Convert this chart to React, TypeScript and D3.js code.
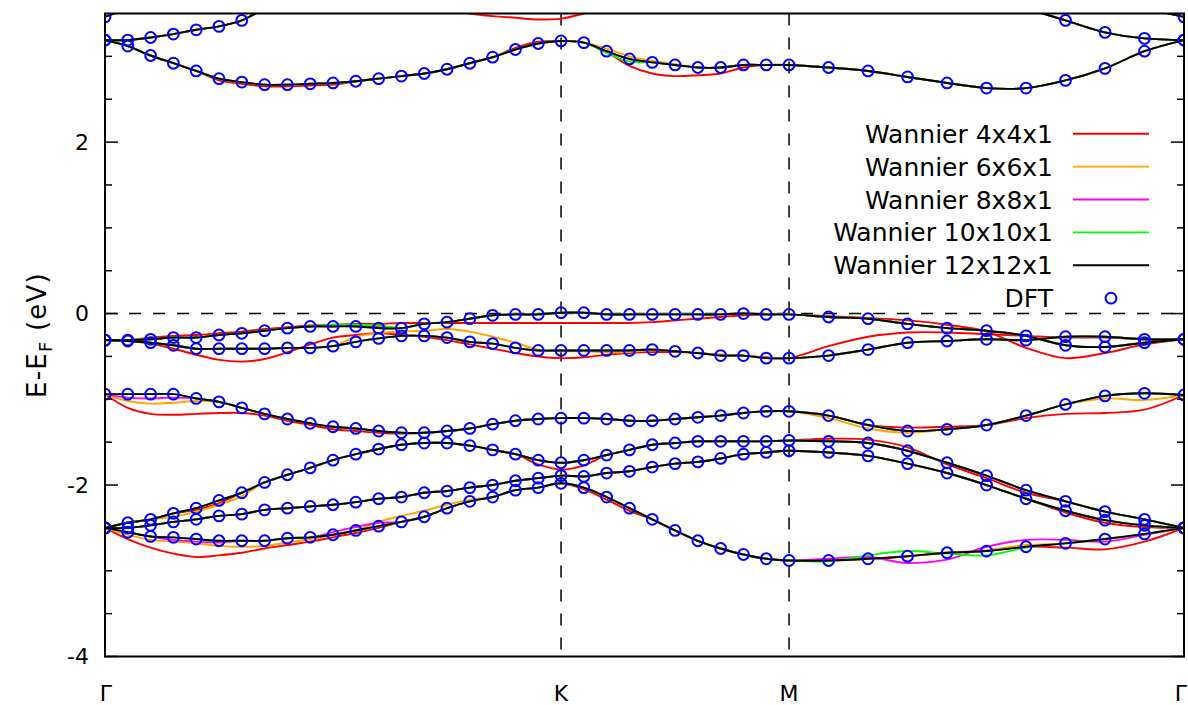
import React from "react";
import * as d3 from "d3";

// k-path: Γ-K-M-Γ of the hexagonal zone, lengths in units of |ΓK|
const symLabels = ["Γ", "K", "M", "Γ"];
const segLengths = [1, 0.5, Math.sqrt(3) / 2];
const segSteps = [20, 10, 10];

const yMajorTicks = [-4, -2, 0, 2];
const yMinorTicks = [-3.5, -3, -2.5, -1.5, -1, -0.5, 0.5, 1, 1.5, 2.5, 3];

// DFT eigenvalues (eV) on the 41 k-points of the path
const dftU3 = [
  3.46, 3.56, null, null, null, null, null, null, null, null,
  null, null, null, null, null, null, null, null, null, null,
  null, null, null, null, null, null, null, null, null, null,
  null, null, null, null, null, null, null, null, null, 3.56,
  3.46,
];
const dftU2 = [
  3.19, 3.19, 3.22, 3.26, 3.31, 3.35, 3.42, 3.56, 3.70, null,
  null, null, null, null, null, null, null, null, null, null,
  null, null, null, null, null, null, null, null, null, null,
  null, null, null, null, null, null, 3.56, 3.42, 3.28, 3.21,
  3.19,
];
const dftU1 = [
  3.19, 3.12, 3.01, 2.92, 2.83, 2.74, 2.70, 2.67, 2.67, 2.68,
  2.69, 2.71, 2.74, 2.77, 2.80, 2.85, 2.92, 2.99, 3.08, 3.15,
  3.18, 3.16, 3.06, 2.97, 2.93, 2.90, 2.87, 2.87, 2.90, 2.90,
  2.90, 2.87, 2.83, 2.76, 2.69, 2.63, 2.63, 2.72, 2.86, 3.06,
  3.19,
];
const dftV1 = [
  -0.31, -0.31, -0.30, -0.28, -0.28, -0.25, -0.23, -0.20, -0.17, -0.15,
  -0.15, -0.15, -0.17, -0.17, -0.12, -0.10, -0.06, -0.02, -0.01, -0.01,
  0.01, 0.01, -0.01, -0.01, -0.01, -0.01, -0.01, -0.01, 0.0, -0.01,
  -0.01, -0.04, -0.06, -0.12, -0.17, -0.20, -0.26, -0.37, -0.39, -0.34,
  -0.30,
];
const dftV2 = [
  -0.31, -0.32, -0.34, -0.37, -0.41, -0.41, -0.41, -0.41, -0.40, -0.40,
  -0.38, -0.33, -0.29, -0.26, -0.26, -0.28, -0.33, -0.35, -0.40, -0.43,
  -0.43, -0.43, -0.43, -0.43, -0.42, -0.44, -0.46, -0.49, -0.49, -0.52,
  -0.52, -0.49, -0.42, -0.34, -0.32, -0.30, -0.31, -0.27, -0.27, -0.30,
  -0.30,
];
const dftV3 = [
  -0.94, -0.94, -0.94, -0.94, -0.99, -1.03, -1.10, -1.17, -1.23, -1.28,
  -1.32, -1.34, -1.37, -1.39, -1.39, -1.37, -1.34, -1.29, -1.25, -1.23,
  -1.22, -1.22, -1.23, -1.25, -1.25, -1.23, -1.21, -1.19, -1.16, -1.14,
  -1.14, -1.19, -1.30, -1.37, -1.35, -1.30, -1.19, -1.06, -0.96, -0.93,
  -0.95,
];
const dftV4 = [
  -2.50, -2.44, -2.40, -2.33, -2.27, -2.18, -2.09, -1.97, -1.88, -1.80,
  -1.71, -1.64, -1.58, -1.53, -1.51, -1.51, -1.54, -1.59, -1.64, -1.71,
  -1.74, -1.71, -1.65, -1.59, -1.53, -1.51, -1.49, -1.49, -1.49, -1.49,
  -1.48, -1.49, -1.51, -1.60, -1.74, -1.89, -2.06, -2.19, -2.31, -2.40,
  -2.50,
];
const dftV5 = [
  -2.50, -2.50, -2.47, -2.43, -2.40, -2.36, -2.34, -2.29, -2.27, -2.25,
  -2.23, -2.20, -2.16, -2.14, -2.09, -2.07, -2.03, -2.00, -1.95, -1.92,
  -1.89, -1.90, -1.86, -1.84, -1.79, -1.75, -1.73, -1.69, -1.64, -1.62,
  -1.60, -1.62, -1.66, -1.75, -1.86, -2.00, -2.16, -2.30, -2.41, -2.47,
  -2.50,
];
const dftV6 = [
  -2.50, -2.55, -2.60, -2.61, -2.63, -2.65, -2.65, -2.65, -2.62, -2.61,
  -2.58, -2.53, -2.48, -2.43, -2.37, -2.27, -2.19, -2.14, -2.06, -2.03,
  -1.98, -2.03, -2.14, -2.27, -2.40, -2.53, -2.65, -2.74, -2.81, -2.86,
  -2.88, -2.88, -2.86, -2.83, -2.79, -2.77, -2.72, -2.68, -2.63, -2.57,
  -2.50,
];

// Wannier-interpolated bands: [k index, eV] where they leave the DFT curve
type Edits = Record<string, [number, number][]>;

const wannier4: Edits = {
  U1: [[5, 2.72], [6, 2.68], [7, 2.65], [8, 2.65], [9, 2.66], [10, 2.67], [18, 3.10], [19, 3.17],
    [22, 3.05], [23, 2.89], [24, 2.80], [25, 2.77], [26, 2.78], [27, 2.80], [28, 2.87], [29, 2.90]],
  U2: [[15, 3.56], [16, 3.50], [17, 3.47], [18, 3.45], [19, 3.43], [20, 3.44], [21, 3.50], [22, 3.58]],
  V1: [[2, -0.28], [3, -0.26], [4, -0.25], [5, -0.23], [6, -0.21], [7, -0.18], [8, -0.16], [9, -0.14],
    [10, -0.13], [11, -0.12], [12, -0.12], [13, -0.11], [14, -0.11], [15, -0.11], [16, -0.11], [17, -0.11],
    [18, -0.11], [19, -0.11], [20, -0.11], [21, -0.11], [22, -0.11], [23, -0.11], [24, -0.10], [25, -0.08],
    [26, -0.06], [27, -0.04], [28, -0.02], [29, -0.01], [31, -0.03], [32, -0.05], [33, -0.08], [34, -0.13],
    [35, -0.21], [36, -0.40], [37, -0.52], [38, -0.46], [39, -0.36]],
  V2: [[1, -0.32], [2, -0.35], [3, -0.41], [4, -0.48], [5, -0.54], [6, -0.56], [7, -0.53], [8, -0.45],
    [9, -0.36], [10, -0.28], [11, -0.25], [12, -0.23], [13, -0.25], [14, -0.27], [15, -0.31], [16, -0.36],
    [17, -0.41], [18, -0.46], [19, -0.50], [20, -0.52], [21, -0.51], [22, -0.48], [23, -0.46], [24, -0.45],
    [25, -0.45], [26, -0.46], [27, -0.48], [28, -0.49], [29, -0.51], [31, -0.38], [32, -0.27], [33, -0.22],
    [34, -0.22], [35, -0.24], [36, -0.26], [37, -0.28], [38, -0.28]],
  V3: [[1, -1.10], [2, -1.17], [3, -1.18], [4, -1.17], [5, -1.16], [6, -1.16], [7, -1.19], [8, -1.25],
    [9, -1.30], [10, -1.35], [11, -1.37], [12, -1.39], [13, -1.40], [33, -1.33], [34, -1.32], [35, -1.30],
    [36, -1.22], [37, -1.17], [38, -1.16], [39, -1.12]],
  V4: [[4, -2.29], [5, -2.21], [19, -1.76], [20, -1.82], [21, -1.77], [31, -1.46], [32, -1.47], [33, -1.56],
    [34, -1.76], [35, -1.92], [36, -2.09]],
  V5: [[37, -2.32], [38, -2.44], [39, -2.49]],
  V6: [[1, -2.63], [2, -2.73], [3, -2.80], [4, -2.84], [5, -2.82], [6, -2.79], [7, -2.74], [8, -2.70],
    [9, -2.66], [10, -2.61], [11, -2.56], [12, -2.50], [21, -2.05], [22, -2.17], [23, -2.30], [36, -2.72],
    [37, -2.73], [38, -2.75], [39, -2.66]],
};

const wannier6: Edits = {
  U1: [[22, 3.09], [23, 3.00], [24, 2.95], [25, 2.91]],
  V2: [[11, -0.27], [12, -0.23], [13, -0.21], [14, -0.20], [15, -0.18], [16, -0.21], [17, -0.27],
    [18, -0.34], [19, -0.42], [20, -0.44], [21, -0.44], [22, -0.45], [23, -0.45]],
  V3: [[1, -1.02], [2, -1.05], [3, -1.04], [4, -1.02], [31, -1.22], [32, -1.34], [33, -1.39], [38, -0.99], [39, -1.01]],
  V4: [[3, -2.37], [4, -2.31], [5, -2.23], [6, -2.13]],
  V6: [[1, -2.58], [2, -2.64], [3, -2.66], [4, -2.68], [5, -2.71], [6, -2.72], [7, -2.71], [8, -2.67],
    [9, -2.63], [12, -2.43], [13, -2.36], [14, -2.30], [15, -2.23], [16, -2.17], [35, -2.76], [36, -2.70]],
};

const wannier8: Edits = {
  V1: [[11, -0.13], [12, -0.15]],
  V3: [[1, -0.98], [2, -0.99], [3, -0.98]],
  V6: [[3, -2.64], [4, -2.66], [5, -2.67], [10, -2.55], [11, -2.49], [12, -2.44], [31, -2.86], [32, -2.84],
    [33, -2.91], [34, -2.87], [35, -2.72], [36, -2.64], [37, -2.64], [38, -2.66], [39, -2.58]],
};

const wannier10: Edits = {
  U1: [[22, 3.04], [23, 2.94]],
  V1: [[10, -0.13], [11, -0.13], [12, -0.14]],
  V6: [[31, -2.89], [32, -2.82], [33, -2.77], [34, -2.80], [35, -2.82], [36, -2.73]],
};

const wannier12: Edits = {};

const dftBands: Record<string, (number | null)[]> = {
  U3: dftU3, U2: dftU2, U1: dftU1, V1: dftV1, V2: dftV2, V3: dftV3, V4: dftV4, V5: dftV5, V6: dftV6,
};

const series = [
  { label: "Wannier 4x4x1", color: "#ff0000", edits: wannier4 },
  { label: "Wannier 6x6x1", color: "#ffa500", edits: wannier6 },
  { label: "Wannier 8x8x1", color: "#ff00ff", edits: wannier8 },
  { label: "Wannier 10x10x1", color: "#00ff00", edits: wannier10 },
  { label: "Wannier 12x12x1", color: "#000000", edits: wannier12 },
];

const W = 1188;
const H = 705;
const plot = { left: 105, right: 1184, top: 13.5, bottom: 656.5 };
const font = "DejaVu Sans, sans-serif";

// k coordinate of every grid point along the path
const kGrid: number[] = [0];
segLengths.forEach((len, s) => {
  const start = kGrid[kGrid.length - 1];
  for (let j = 1; j <= segSteps[s]; j++) kGrid.push(start + (len * j) / segSteps[s]);
});
const symK = [0, 1, 1.5, 1.5 + Math.sqrt(3) / 2];

export default function App() {
  const x = d3.scaleLinear().domain([0, symK[3]]).range([plot.left, plot.right]);
  const y = d3.scaleLinear().domain([-4, 3.5]).range([plot.bottom, plot.top]);

  const line = d3
    .line<[number, number | null]>()
    .defined((d) => d[1] !== null)
    .x((d) => x(d[0]))
    .y((d) => y(d[1] as number))
    .curve(d3.curveCatmullRom.alpha(0.5));

  const bandPath = (band: string, edits: Edits) => {
    const vals = dftBands[band].slice();
    (edits[band] || []).forEach(([i, v]) => (vals[i] = v));
    return line(vals.map((v, i) => [kGrid[i], v] as [number, number | null])) || "";
  };

  const dftPoints: [number, number][] = [];
  Object.values(dftBands).forEach((vals) =>
    vals.forEach((v, i) => {
      if (v !== null && v <= 3.5 && v >= -4) dftPoints.push([kGrid[i], v]);
    })
  );

  const legendY = (i: number) => 133.7 + i * 32.9;
  const xLabelPos = [x(symK[0]) + 1, x(symK[1]), x(symK[2]), x(symK[3]) - 3];

  return (
    <svg width={W} height={H} style={{ position: "absolute", left: 0, top: 0, background: "#fff" }}>
      <defs>
        <clipPath id="plotclip">
          <rect x={plot.left} y={plot.top} width={plot.right - plot.left} height={plot.bottom - plot.top} />
        </clipPath>
      </defs>

      {/* dashed guides */}
      <g stroke="#000" strokeWidth={1.5} strokeDasharray="12 12" fill="none">
        <line x1={plot.left} x2={plot.right} y1={y(0)} y2={y(0)} />
        {symK.slice(1, 3).map((k) => (
          <line key={k} x1={x(k)} x2={x(k)} y1={plot.top} y2={plot.bottom} />
        ))}
      </g>

      <g clipPath="url(#plotclip)" fill="none" strokeWidth={1.9}>
        {series.map((s) => (
          <g key={s.label} stroke={s.color}>
            {Object.keys(dftBands).map((b) => (
              <path key={b} d={bandPath(b, s.edits)} />
            ))}
          </g>
        ))}
        <g stroke="#0000ff" strokeWidth={2}>
          {dftPoints.map((p, i) => (
            <circle key={i} cx={x(p[0])} cy={y(p[1])} r={5.4} />
          ))}
        </g>
      </g>

      {/* frame and ticks */}
      <rect x={plot.left} y={plot.top} width={plot.right - plot.left} height={plot.bottom - plot.top}
        fill="none" stroke="#000" strokeWidth={2} />
      <g stroke="#000" strokeWidth={1.5}>
        {yMajorTicks.map((t) => (
          <g key={t}>
            <line x1={plot.left} x2={plot.left + 13} y1={y(t)} y2={y(t)} />
            <line x1={plot.right} x2={plot.right - 13} y1={y(t)} y2={y(t)} />
          </g>
        ))}
        {yMinorTicks.map((t) => (
          <g key={t}>
            <line x1={plot.left} x2={plot.left + 7} y1={y(t)} y2={y(t)} />
            <line x1={plot.right} x2={plot.right - 7} y1={y(t)} y2={y(t)} />
          </g>
        ))}
      </g>

      <g fontFamily={font} fontSize={22} fill="#000">
        {yMajorTicks.map((t) => (
          <text key={t} x={plot.left - 16} y={y(t)} dy="0.36em" textAnchor="end">
            {t}
          </text>
        ))}
        {symK.map((k, i) => (
          <text key={i} x={xLabelPos[i]} y={701} textAnchor="middle">
            {symLabels[i]}
          </text>
        ))}
        <text transform={`translate(46,${y(-0.25)}) rotate(-90)`} textAnchor="middle" fontSize={26}
          letterSpacing={1.2}>
          E-E<tspan fontSize={18} dy={6}>F</tspan>
          <tspan dy={-6}> (eV)</tspan>
        </text>
      </g>

      {/* legend */}
      <g fontFamily={font} fontSize={25}>
        {series.map((s, i) => (
          <g key={s.label}>
            <text x={1053} y={legendY(i)} dy="0.36em" textAnchor="end">
              {s.label}
            </text>
            <line x1={1073} x2={1149} y1={legendY(i)} y2={legendY(i)} stroke={s.color} strokeWidth={1.9} />
          </g>
        ))}
        <text x={1053} y={legendY(5)} dy="0.36em" textAnchor="end">
          DFT
        </text>
        <circle cx={1111} cy={legendY(5)} r={5.4} fill="none" stroke="#0000ff" strokeWidth={2} />
      </g>
    </svg>
  );
}
